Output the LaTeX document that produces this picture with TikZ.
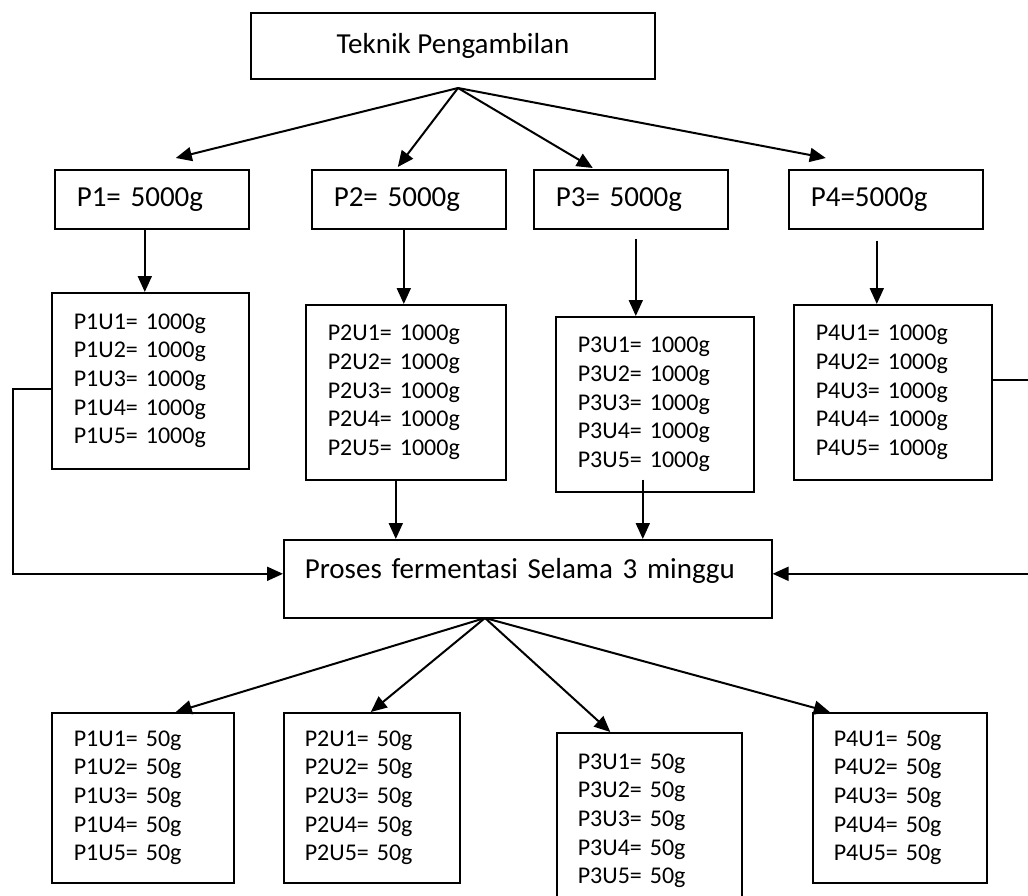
\documentclass[tikz,border=0pt]{standalone}
\usepackage{fontspec}
\setmainfont{Carlito}
\usepackage{tikz}
\usetikzlibrary{arrows.meta}
\usetikzlibrary{calc}

\newcommand{\bigtxt}{\fontsize{29}{35}\selectfont}
\newcommand{\smalltxt}{\fontsize{24}{28.6}\selectfont}

\begin{document}
\begin{tikzpicture}[line cap=butt,line join=miter,>={Triangle[length=16pt,width=14pt]},x=1pt,y=-1pt,
    box/.style={draw, line width=1.6pt, font=\bigtxt},
    pbox/.style={box, anchor=north west, align=left, inner xsep=22pt, inner ysep=0pt, text width=150pt, minimum height=59pt},
    ubox/.style={draw, line width=1.6pt, font=\smalltxt, anchor=north west, align=left, inner xsep=22pt, inner ysep=0pt},
    arr/.style={->, line width=2pt}]
                        \useasboundingbox (0,0) rectangle (1028,896);

                        \node[box, minimum width=404pt, minimum height=66pt] (teknik) at (453,46) {Teknik Pengambilan};
                        \coordinate (split) at (458,88);

                        \node[pbox] (p1) at (54,169) {P1= 5000g};
                        \node[pbox] (p2) at (311,169) {P2= 5000g};
                        \node[pbox] (p3) at (533,169) {P3= 5000g};
                        \node[pbox] (p4) at (788,169) {P4=5000g};

                        \draw[arr] (split) -- ($(p1.north)+(24,-11)$);
                        \draw[arr] (split) -- ($(p2.north)+(-11,-2)$);
                        \draw[arr] (split) -- ($(p3.north)+(-38,-1)$);
                        \draw[arr] (split) -- ($(p4.north)+(-60,-11)$);

                        \node[ubox, text width=153pt, minimum height=176pt] (p1u) at (51,292) {P1U1= 1000g\\P1U2= 1000g\\P1U3= 1000g\\P1U4= 1000g\\P1U5= 1000g};
                        \node[ubox, text width=156pt, minimum height=175pt] (p2u) at (305,304) {P2U1= 1000g\\P2U2= 1000g\\P2U3= 1000g\\P2U4= 1000g\\P2U5= 1000g};
                        \node[ubox, text width=154pt, minimum height=175pt] (p3u) at (555,316) {P3U1= 1000g\\P3U2= 1000g\\P3U3= 1000g\\P3U4= 1000g\\P3U5= 1000g};
                        \node[ubox, text width=154pt, minimum height=175pt] (p4u) at (793,304) {P4U1= 1000g\\P4U2= 1000g\\P4U3= 1000g\\P4U4= 1000g\\P4U5= 1000g};

                        \draw[arr] ([xshift=-7pt]p1.south) -- ([xshift=-7pt]p1.south |- p1u.north);
                        \draw[arr] ([xshift=-5pt]p2.south) -- ([xshift=-5pt]p2.south |- p2u.north);
                        \draw[arr] ([xshift=5pt,yshift=-9pt]p3.south) -- ([xshift=5pt]p3.south |- p3u.north);
                        \draw[arr] ([xshift=-9pt,yshift=-11pt]p4.south) -- ([xshift=-9pt]p4.south |- p4u.north);

                        \node[box, anchor=north west, align=left, inner xsep=21pt, inner ysep=0pt, text width=446pt, minimum height=78pt, text height=20pt, text depth=20pt] (ferm) at (283,539) {Proses fermentasi Selama 3 minggu};

                        \draw[arr] ([xshift=-10pt]p2u.south) -- ([xshift=-10pt]p2u.south |- ferm.north);
                        \draw[arr] ([xshift=-12pt,yshift=13pt]p3u.south) -- ([xshift=-12pt]p3u.south |- ferm.north);
                        \draw[arr] ([yshift=-8pt]p1u.west) -- ++(-38,0) |- ([yshift=5pt]ferm.west);
                        \draw[arr] ([yshift=12.5pt]p4u.east) -- ++(39,0) |- ([yshift=5pt]ferm.east);

                        \coordinate (merge) at (485,618);

                        \node[ubox, text width=138pt, minimum height=170pt] (p1b) at (51,712) {P1U1= 50g\\P1U2= 50g\\P1U3= 50g\\P1U4= 50g\\P1U5= 50g};
                        \node[ubox, text width=134pt, minimum height=170pt, inner xsep=21pt] (p2b) at (283,712) {P2U1= 50g\\P2U2= 50g\\P2U3= 50g\\P2U4= 50g\\P2U5= 50g};
                        \node[ubox, text width=143pt, minimum height=176pt, inner xsep=21pt] (p3b) at (556,732) {P3U1= 50g\\P3U2= 50g\\P3U3= 50g\\P3U4= 50g\\P3U5= 50g};
                        \node[ubox, text width=132pt, minimum height=170pt, inner xsep=21pt] (p4b) at (812,712) {P4U1= 50g\\P4U2= 50g\\P4U3= 50g\\P4U4= 50g\\P4U5= 50g};

                        \draw[arr] (merge) -- ($(p1b.north)+(33,0)$);
                        \draw[arr] (merge) -- ($(p2b.north)+(-1,0)$);
                        \draw[arr] (merge) -- ($(p3b.north)+(-39,0)$);
                        \draw[arr] (merge) -- ($(p4b.north)+(-70,0)$);
                    \end{tikzpicture}
\end{document}
